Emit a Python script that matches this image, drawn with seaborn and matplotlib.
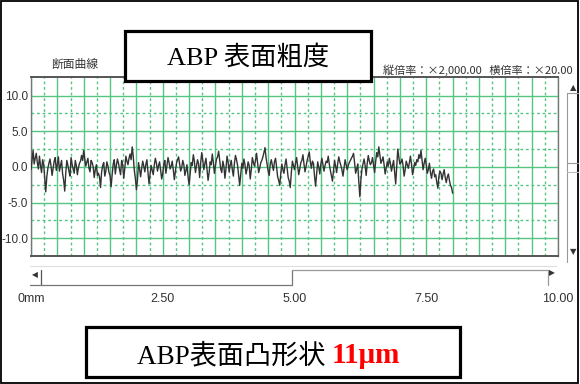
import numpy as np
import pandas as pd
import matplotlib
matplotlib.use("Agg")
import matplotlib.pyplot as plt
import seaborn as sns
from matplotlib.patches import Rectangle
from matplotlib.lines import Line2D

# ---------------- data ----------------
profile_um = [
    -0.4, 0.9, 2.3, 0.4, 1.2, 1.9, 0.6, -0.3, 1.5, 0.2,
    -0.8, 1.0, 0.4, -1.6, -3.5, -1.4, -0.2, 0.5, 1.1, 0.1,
    -1.2, -0.2, 0.8, 1.3, -0.5, 0.3, 1.4, -0.6, 0.2, 0.9,
    -1.0, -1.9, -3.4, -0.8, 0.9, 0.2, -0.6, -1.3, 1.3, 0.4,
    -0.3, -0.9, 0.9, 0.2, -1.1, -0.1, 0.5, 0.8, 1.6, 0.9,
    2.3, 1.1, 0.1, 0.7, 1.2, -0.2, -0.7, 0.9, 0.6, 0.0,
    -1.5, -0.4, 0.3, -1.2, -0.9, -1.4, -2.9, -0.7, 0.2, 0.6,
    -1.3, -0.6, 0.7, 0.1, -0.8, -1.2, -2.8, -1.1, 0.4, 1.0,
    -1.0, 0.2, 1.1, 0.5, -0.4, -1.1, 0.9, 0.3, -1.6, -0.2,
    1.5, 0.8, 0.3, 1.2, 1.8, 1.0, 2.8, 1.5, -0.5, -1.6,
    -3.2, -1.9, 0.6, -0.3, -1.4, -0.2, 0.8, 0.1, -0.7, 0.4,
    1.0, -0.8, -2.4, -1.0, 0.2, -0.5, -1.1, 0.3, 1.2, 0.5,
    -0.6, 0.2, 0.7, -0.5, -1.7, -0.9, 0.4, 0.9, -0.9, 0.2,
    1.3, 0.6, -0.3, 0.1, 0.8, -0.4, -1.8, -0.6, 0.5, 1.0,
    1.4, 0.4, -0.6, -0.1, 0.9, 0.3, -1.2, -0.5, 0.3, -1.4,
    -2.5, -1.0, 0.6, 0.2, 1.7, 0.8, -0.8, 0.1, 1.0, 0.4,
    -1.5, 0.6, 2.0, 0.9, -0.4, 0.5, 1.2, -0.3, -1.9, -0.8,
    0.7, 0.3, 1.8, 0.6, -0.9, 0.2, 1.1, 1.4, 2.2, 0.9,
    -0.3, -0.8, 0.8, 0.1, -1.6, -0.2, 1.5, 0.7, -0.7, 0.3,
    0.9, -0.4, -1.3, 0.5, 1.6, 1.0, 0.2, -1.2, -2.6, -1.1,
    0.5, -0.2, 1.1, 0.3, -1.0, -0.3, 0.7, 0.2, -1.7, -0.4,
    1.3, 0.6, 0.1, 0.9, 1.9, 0.5, -0.8, -0.2, 0.6, 0.9,
    1.4, 2.0, 2.7, 1.3, 0.3, -0.6, -1.2, 0.4, 1.0, 0.2,
    -0.5, 0.7, 1.2, 0.0, -1.4, -1.9, -2.6, -0.9, 0.4, -0.4,
    -0.9, 0.3, 1.1, -0.2, -1.5, -2.0, -2.9, -0.8, 0.8, 0.2,
    -0.4, 0.5, 1.3, 0.1, -1.1, -0.3, 0.6, 0.9, 1.7, 0.4,
    -0.7, 0.1, 0.9, 1.5, 2.1, 0.7, -0.2, 0.8, 0.5, -1.3,
    -2.7, -1.0, 0.7, 0.0, -1.0, 0.4, 1.2, 0.3, -0.6, 0.2,
    0.8, 0.6, 1.5, 0.4, -0.5, -1.2, -2.0, -0.6, 0.9, 0.1,
    -0.8, 0.5, 1.4, 0.7, 0.2, -0.4, -1.3, -0.2, 1.0, 0.3,
    -0.4, 0.2, 0.6, 0.9, 1.2, 1.5, 1.9, 0.6, -0.9, -0.3,
    0.4, -2.1, -4.2, -1.8, -0.3, 0.4, 1.1, 0.2, -1.2, 0.5,
    1.6, 0.8, 0.3, 0.6, 1.3, 0.2, -0.8, 0.7, 2.0, 1.4,
    2.8, 1.6, 0.5, 0.9, 1.4, 0.3, -1.0, -0.2, 0.7, 0.1,
    1.2, 0.5, -0.6, 0.2, 0.9, -0.8, -2.4, 0.1, 2.5, 1.3,
    0.4, 0.6, 1.1, 0.2, -1.3, -0.4, 0.8, 0.3, -0.2, 0.6,
    1.5, 0.4, -1.1, -0.3, 0.6, 0.2, 1.0, 0.7, 1.7, 1.2,
    2.3, 0.9, -0.4, 0.5, 1.2, 0.3, -0.9, -0.4, 0.5, -0.8,
    -1.6, -0.6, -0.3, -1.4, -1.1, -2.2, -3.0, -1.3, -0.6, -0.9,
    -1.8, -1.0, -0.4, -1.5, -2.2, -1.4, -1.0, -1.9, -2.6, -2.9,
    -3.7,
]
sample_pitch_mm = 0.02

x_major = [i * 0.5 for i in range(21)]
x_minor = [0.25 + i * 0.5 for i in range(20)]
x_labels = {0: "0mm", 5: "2.50", 10: "5.00", 15: "7.50", 20: "10.00"}
y_major = [-10, -5, 0, 5, 10]
y_minor = [-7.5, -2.5, 2.5, 7.5]
y_labels = ["-10.0", "-5.0", "0.0", "5.0", "10.0"]

title_text = "ABP 表面粗度"
panel_label = "断面曲線"
scale_text = "縦倍率：×2,000.00   横倍率：×20.00"
caption_main = "ABP表面凸形状 "
caption_value = "11μm"

df = pd.DataFrame({
    "x_mm": np.arange(len(profile_um)) * sample_pitch_mm,
    "z_um": profile_um,
})

# ---------------- style ----------------
sns.set_theme(style="white")
plt.rcParams["font.family"] = ["Noto Sans CJK JP", "DejaVu Sans"]

GREEN = "#55c584"
TICKFONT = "Liberation Sans"
W, H = 580, 384

fig = plt.figure(figsize=(W / 100, H / 100), dpi=100)
fig.patch.set_facecolor("white")

ax = fig.add_axes([31 / W, 1 - 256 / H, (558 - 31) / W, (256 - 77) / H])
sns.lineplot(data=df, x="x_mm", y="z_um", ax=ax, color="#333333",
             linewidth=1.0, zorder=3)
ax.set_xlim(0, 10)
ax.set_ylim(-12.5, 12.6)
ax.set_xlabel("")
ax.set_ylabel("")

ax.set_xticks(x_major)
ax.set_xticklabels([x_labels.get(i, "") for i in range(len(x_major))],
                   fontsize=9, family=TICKFONT, color="#333333")
ax.set_xticks(x_minor, minor=True)
ax.set_yticks(y_major)
ax.set_yticklabels(y_labels, fontsize=8.5, family=TICKFONT, color="#333333")
ax.set_yticks(y_minor, minor=True)
ax.tick_params(axis="x", which="both", length=0, pad=27)
ax.tick_params(axis="y", which="both", length=0, pad=2)

ax.grid(True, which="major", color=GREEN, linewidth=1.0, linestyle="-")
ax.grid(True, which="minor", color=GREEN, linewidth=1.0, linestyle=(0, (2, 2)))
ax.set_axisbelow(True)

for side in ("top", "bottom"):
    ax.spines[side].set_color("#555555")
    ax.spines[side].set_linewidth(1.4)
for side in ("left", "right"):
    ax.spines[side].set_color("#777777")
    ax.spines[side].set_linewidth(1.0)

# ---------------- overlay in pixel coordinates ----------------
ov = fig.add_axes([0, 0, 1, 1], zorder=10)
ov.set_xlim(0, W)
ov.set_ylim(H, 0)
ov.axis("off")
ov.patch.set_alpha(0)

# outer frame
ov.add_patch(Rectangle((1, 1), 577, 382, fill=False, edgecolor="black", linewidth=1.3))

# title box
ov.add_patch(Rectangle((125, 31), 246, 50, facecolor="white", edgecolor="black", linewidth=2.3))
ov.text(248, 57, title_text, ha="center", va="center", fontsize=19,
        family=["Liberation Serif", "Noto Sans CJK JP"], color="black")

ov.text(75, 64, panel_label, ha="center", va="center", fontsize=8.5, color="#333333")
ov.text(383, 70, scale_text, ha="left", va="center", fontsize=8, color="#333333")

# vertical scrollbar
ov.text(573, 88, "▲", ha="center", va="center", fontsize=6, color="#333333",
        family="DejaVu Sans")
ov.text(573, 252, "▼", ha="center", va="center", fontsize=6, color="#333333",
        family="DejaVu Sans")
ov.add_line(Line2D([567, 567], [93, 262], color="#999999", linewidth=0.8))
ov.add_line(Line2D([567, 578], [93, 93], color="#999999", linewidth=0.8))
ov.add_line(Line2D([567, 578], [163, 163], color="#999999", linewidth=0.8))
ov.add_line(Line2D([567, 578], [172, 172], color="#bbbbbb", linewidth=0.8))

# horizontal scrollbar
ov.add_line(Line2D([30, 556], [266, 266], color="#dddddd", linewidth=0.8))
ov.text(35, 275, "◀", ha="center", va="center", fontsize=5.5, color="#333333",
        family="DejaVu Sans")
ov.text(552, 273, "▶", ha="center", va="center", fontsize=5.5, color="#333333",
        family="DejaVu Sans")
ov.add_line(Line2D([41, 41], [270, 285], color="#555555", linewidth=0.9))
ov.add_line(Line2D([30, 292], [285, 285], color="#777777", linewidth=0.9))
ov.add_line(Line2D([292, 292], [270, 285], color="#777777", linewidth=0.9))
ov.add_line(Line2D([292, 548], [270, 270], color="#999999", linewidth=0.9))
ov.add_line(Line2D([548, 548], [270, 285], color="#999999", linewidth=0.9))

# bottom caption box
ov.add_patch(Rectangle((86, 327), 374, 50, facecolor="white", edgecolor="black", linewidth=2.3))
t1 = ov.text(137, 363, caption_main, ha="left", va="baseline", fontsize=19.5,
             family=["Liberation Serif", "Noto Sans CJK JP"], color="black")
ov.annotate(caption_value, xy=(1, 0), xycoords=t1, ha="left", va="bottom",
            fontsize=21, fontweight="bold", family=["Liberation Serif"], color="#ff0000")

fig.savefig("out.png", dpi=100, facecolor="white")
